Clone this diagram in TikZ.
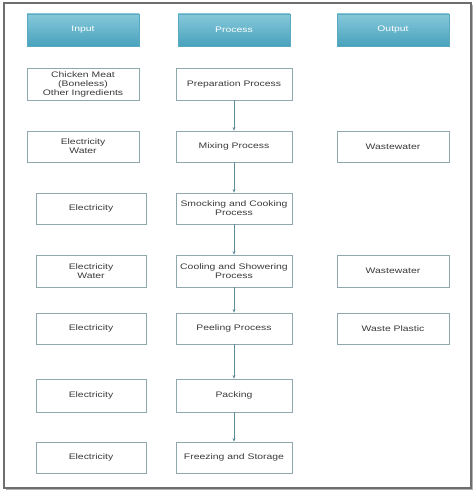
\documentclass[tikz,border=0pt]{standalone}
\usepackage{fontspec}
\setmainfont[FakeStretch=1.3]{Liberation Sans}
\usetikzlibrary{arrows.meta}
\definecolor{boxc}{HTML}{8FA8AD}
\definecolor{hdrtop}{HTML}{86C8DA}
\definecolor{hdrbot}{HTML}{48A2BC}
\definecolor{hdrline}{HTML}{5AA9C0}
\definecolor{txt}{HTML}{3A3A3A}
\definecolor{arr}{HTML}{5E8B96}
\definecolor{frame}{HTML}{6E6E6E}
\begin{document}
\begin{tikzpicture}[x=1pt,y=-1pt,
  font=\fontsize{8}{9}\selectfont,
  hdr/.style={draw=hdrline, line width=0.4pt, top color=hdrtop, bottom color=hdrbot, text=white, minimum width=112pt, minimum height=32pt, inner sep=0pt},
  box/.style={draw=boxc, line width=0.8pt, fill=white, align=center, text=txt, inner sep=0pt, minimum height=31pt},
  inA/.style={box, minimum width=112pt},
  inB/.style={box, minimum width=110pt},
  proc/.style={box, minimum width=116pt},
  outb/.style={box, minimum width=112pt},
  flow/.style={draw=arr, line width=0.7pt, -{Stealth[length=3.5pt,width=3pt]}}]
\useasboundingbox (0,0) rectangle (474,492);
% frame with shadow
\fill[black!30] (6,5) rectangle (473,490);
\draw[frame, line width=1.4pt, fill=white] (4,3) rectangle (471,488);
% headers
\node[hdr] (hin) at (83,30) {Input};
\node[hdr] (hproc) at (234,30) {Process};
\node[hdr] (hout) at (393,30) {Output};
% process column
\node[proc, minimum height=32pt] (p1) at (234,84) {Preparation Process};
\node[proc] (p2) at (234,146.5) {Mixing Process};
\node[proc] (p3) at (234,208.5) {Smocking and Cooking\\Process};
\node[proc, minimum height=32pt] (p4) at (234,271) {Cooling and Showering\\Process};
\node[proc] (p5) at (234,328.5) {Peeling Process};
\node[proc, minimum height=33pt] (p6) at (234,395.5) {Packing};
\node[proc] (p7) at (234,457.5) {Freezing and Storage};
% input column
\node[inA, minimum height=32pt] (i1) at (83,84) {Chicken Meat\\(Boneless)\\Other Ingredients};
\node[inA] (i2) at (83,146.5) {Electricity\\Water};
\node[inB] (i3) at (91,208.5) {Electricity};
\node[inB, minimum height=32pt] (i4) at (91,271) {Electricity\\Water};
\node[inB] (i5) at (91,328.5) {Electricity};
\node[inB, minimum height=33pt] (i6) at (91,395.5) {Electricity};
\node[inB] (i7) at (91,457.5) {Electricity};
% output column
\node[outb] (o2) at (393,146.5) {Wastewater};
\node[outb, minimum height=32pt] (o4) at (393,271) {Wastewater};
\node[outb] (o5) at (393,328.5) {Waste Plastic};
% arrows
\draw[flow] (p1) -- (p2);
\draw[flow] (p2) -- (p3);
\draw[flow] (p3) -- (p4);
\draw[flow] (p4) -- (p5);
\draw[flow] (p5) -- (p6);
\draw[flow] (p6) -- (p7);
\end{tikzpicture}
\end{document}
